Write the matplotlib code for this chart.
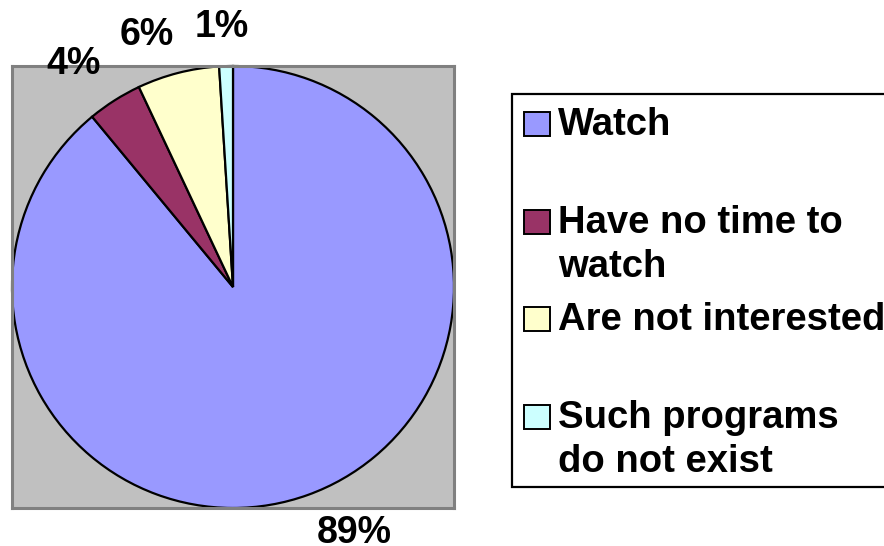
import matplotlib
matplotlib.use("Agg")
import matplotlib.pyplot as plt
from matplotlib.patches import Rectangle

# data
labels = ["Watch", "Have no time to\nwatch", "Are not interested", "Such programs\ndo not exist"]
values = [89, 4, 6, 1]
colors = ["#9999FF", "#993366", "#FFFFCC", "#CCFFFF"]

W, H = 884, 546
plt.rcParams["font.family"] = ["Liberation Sans", "DejaVu Sans"]

fig = plt.figure(figsize=(W / 100, H / 100), dpi=100)

def fx(x):
    return x / W

def fy(y):
    return 1 - y / H

# plot area (gray square)
ax = fig.add_axes([fx(12), fy(508), 442 / W, 442 / H])
wedges, texts, autotexts = ax.pie(values, colors=colors, startangle=90, counterclock=False,
                                  radius=1, frame=True,
                                  autopct=lambda p: "%d%%" % round(p), pctdistance=1.22,
                                  wedgeprops=dict(edgecolor="black", linewidth=1.6),
                                  textprops=dict(fontsize=27, fontweight="bold", color="black"))
ax.set_xlim(-1.0, 1.0)
ax.set_ylim(-1.0, 1.0)
ax.set_aspect("equal")
ax.set_xticks([])
ax.set_yticks([])
ax.set_facecolor("#C0C0C0")
for s in ax.spines.values():
    s.set_color("#808080")
    s.set_linewidth(2.2)

# nudge the percent labels to where excel put them
label_xy = [(0.55, -1.115), (-0.72, 1.01), (-0.39, 1.14), (-0.05, 1.175)]
for t, xy in zip(autotexts, label_xy):
    t.set_position(xy)
    t.set_clip_on(False)

# legend drawn by hand (excel-style slots)
box = Rectangle((fx(512), fy(487)), fx(890) - fx(512), fy(94) - fy(487),
                transform=fig.transFigure, facecolor="white", edgecolor="black",
                linewidth=1.6, clip_on=False)
fig.patches.append(box)

for i, (lab, c) in enumerate(zip(labels, colors)):
    base = 137 + 97.7 * i
    sq = Rectangle((fx(524), fy(base - 1)), 26 / W, 24 / H, transform=fig.transFigure,
                   facecolor=c, edgecolor="black", linewidth=1.4)
    fig.patches.append(sq)
    fig.text(fx(558), fy(base - 30), lab, fontsize=27.5, fontweight="bold",
             ha="left", va="top", linespacing=1.3)

fig.savefig("out.png", dpi=100)
